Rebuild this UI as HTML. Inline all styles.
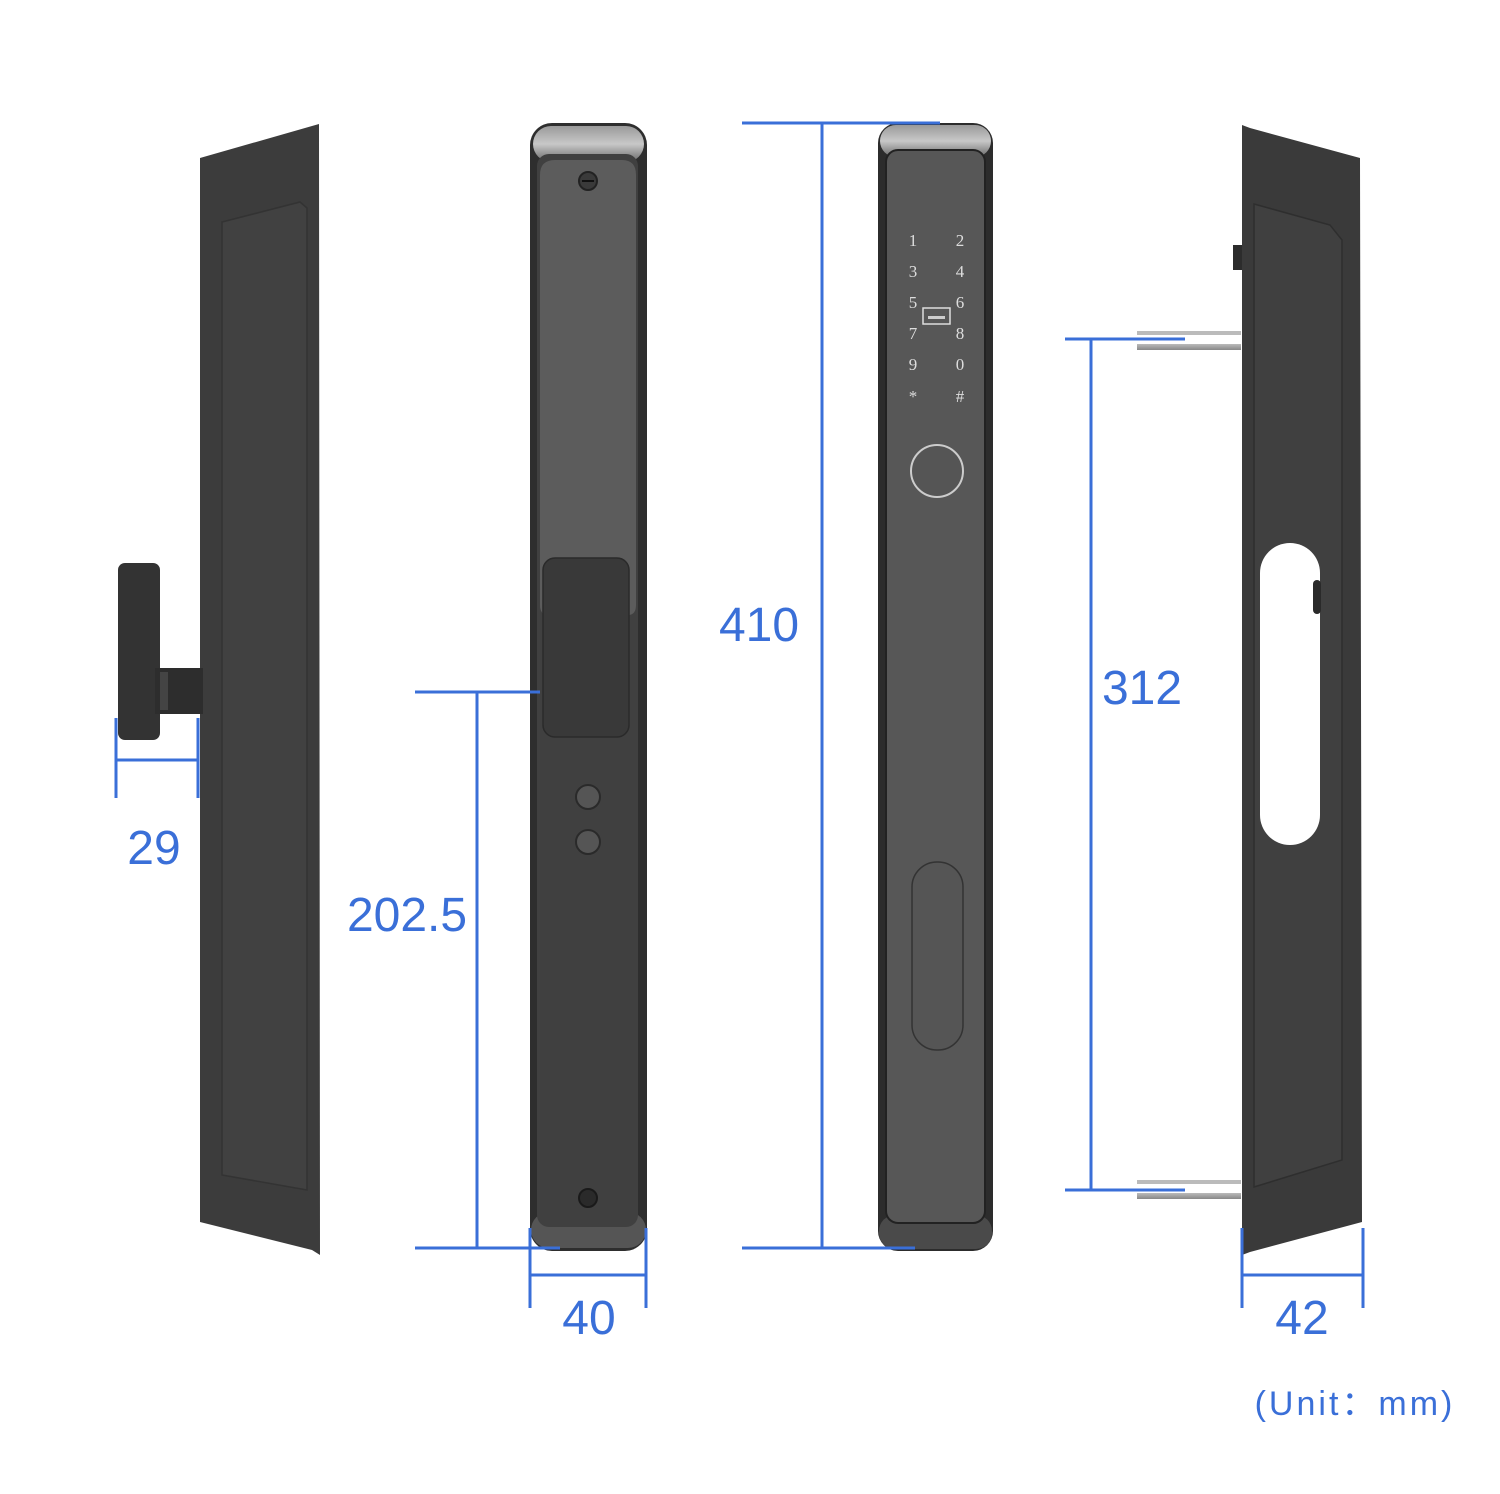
<!DOCTYPE html>
<html><head><meta charset="utf-8"><style>
html,body{margin:0;padding:0;background:#fff;}
svg{display:block}
</style></head><body>
<svg width="1500" height="1494" viewBox="0 0 1500 1494" xmlns="http://www.w3.org/2000/svg">
<defs>
<linearGradient id="cap" x1="0" y1="0" x2="0" y2="1">
<stop offset="0" stop-color="#9a9a9a"/><stop offset="0.5" stop-color="#c8c8c8"/><stop offset="1" stop-color="#6a6a6a"/>
</linearGradient>
<linearGradient id="pin" x1="0" y1="0" x2="0" y2="1">
<stop offset="0" stop-color="#bbb"/><stop offset="1" stop-color="#888"/>
</linearGradient>
</defs>
<rect width="1500" height="1494" fill="#fff"/>

<!-- LEFT side view -->
<polygon points="200,158 312,126 319,124 320,1255 312,1250 200,1222" fill="#3c3c3c"/>
<polygon points="222,222 300,202 307,208 307,1190 222,1175" fill="#414141" stroke="#333" stroke-width="1.5"/>
<rect x="118" y="563" width="42" height="177" rx="7" fill="#333"/>
<rect x="155" y="668" width="48" height="46" fill="#2d2d2d"/>
<rect x="160" y="672" width="8" height="38" fill="#444"/>

<!-- BACK view -->
<rect x="530" y="123" width="117" height="1128" rx="22" fill="#2e2e2e"/>
<rect x="533" y="126" width="111" height="36" rx="18" fill="url(#cap)"/>
<rect x="531" y="1212" width="115" height="36" rx="18" fill="#555"/>
<rect x="537" y="154" width="101" height="1073" rx="12" fill="#404040"/>
<path d="M540,175 Q540,160 555,160 L622,160 Q636,160 636,175 L636,605 Q636,615 628,615 L548,615 Q540,615 540,605 Z" fill="#5c5c5c"/>
<circle cx="588" cy="181" r="9" fill="#3a3a3a" stroke="#222" stroke-width="2"/>
<line x1="582" y1="181" x2="594" y2="181" stroke="#111" stroke-width="2"/>
<rect x="543" y="558" width="86" height="179" rx="12" fill="#393939" stroke="#2a2a2a" stroke-width="1.5"/>
<circle cx="588" cy="797" r="12" fill="#555" stroke="#2a2a2a" stroke-width="2"/>
<circle cx="588" cy="842" r="12" fill="#555" stroke="#2a2a2a" stroke-width="2"/>
<circle cx="588" cy="1198" r="9" fill="#2a2a2a" stroke="#1a1a1a" stroke-width="2"/>

<!-- FRONT view -->
<rect x="878" y="123" width="115" height="1128" rx="20" fill="#2c2c2c"/>
<rect x="880" y="125" width="111" height="32" rx="16" fill="url(#cap)"/>
<rect x="879" y="1215" width="113" height="34" rx="16" fill="#4a4a4a"/>
<rect x="886" y="150" width="99" height="1073" rx="12" fill="#575757" stroke="#222" stroke-width="2"/>
<g font-family="Liberation Serif, serif" font-size="17" fill="#ddd" text-anchor="middle">
<text x="913" y="246">1</text><text x="960" y="246">2</text>
<text x="913" y="277">3</text><text x="960" y="277">4</text>
<text x="913" y="308">5</text><text x="960" y="308">6</text>
<text x="913" y="339">7</text><text x="960" y="339">8</text>
<text x="913" y="370">9</text><text x="960" y="370">0</text>
<text x="913" y="402">*</text><text x="960" y="402">#</text>
</g>
<rect x="923" y="308" width="27" height="16" fill="none" stroke="#ddd" stroke-width="1.5"/>
<rect x="928" y="316" width="17" height="3" fill="#ccc"/>
<circle cx="937" cy="471" r="26" fill="#555" stroke="#ccc" stroke-width="2"/>
<rect x="912" y="862" width="51" height="188" rx="25" fill="#555" stroke="#333" stroke-width="1.5"/>

<!-- RIGHT side view -->
<rect x="1233" y="245" width="10" height="25" fill="#2c2c2c"/>
<rect x="1137" y="331" width="104" height="4" fill="#bbb"/>
<rect x="1137" y="344" width="104" height="6" fill="url(#pin)"/>
<rect x="1137" y="1180" width="104" height="4" fill="#bbb"/>
<rect x="1137" y="1193" width="104" height="6" fill="url(#pin)"/>
<polygon points="1242,125 1250,128 1360,158 1362,1222 1250,1252 1242,1255" fill="#3a3a3a"/>
<polygon points="1254,204 1330,225 1342,240 1342,1160 1254,1187" fill="#404040" stroke="#2e2e2e" stroke-width="1.5"/>
<rect x="1260" y="543" width="60" height="302" rx="30" fill="#fff"/>
<rect x="1313" y="580" width="8" height="34" rx="4" fill="#2a2a2a"/>

<!-- DIMENSIONS -->
<g stroke="#3a6fd8" stroke-width="3" fill="none">
<line x1="116" y1="718" x2="116" y2="798"/><line x1="198" y1="718" x2="198" y2="798"/><line x1="116" y1="760" x2="198" y2="760"/>
<line x1="415" y1="692" x2="540" y2="692"/><line x1="415" y1="1248" x2="560" y2="1248"/><line x1="477" y1="692" x2="477" y2="1248"/>
<line x1="530" y1="1228" x2="530" y2="1308"/><line x1="646" y1="1228" x2="646" y2="1308"/><line x1="530" y1="1275" x2="646" y2="1275"/>
<line x1="742" y1="123" x2="940" y2="123"/><line x1="742" y1="1248" x2="915" y2="1248"/><line x1="822" y1="123" x2="822" y2="1248"/>
<line x1="1065" y1="339" x2="1185" y2="339"/><line x1="1065" y1="1190" x2="1185" y2="1190"/><line x1="1091" y1="339" x2="1091" y2="1190"/>
<line x1="1242" y1="1228" x2="1242" y2="1308"/><line x1="1363" y1="1228" x2="1363" y2="1308"/><line x1="1242" y1="1275" x2="1363" y2="1275"/>
</g>
<g font-family="Liberation Sans, DejaVu Sans, sans-serif" font-size="48" fill="#3a6fd8" text-anchor="middle">
<text x="154" y="864">29</text>
<text x="407" y="931">202.5</text>
<text x="589" y="1334">40</text>
<text x="759" y="641">410</text>
<text x="1142" y="704">312</text>
<text x="1302" y="1334">42</text>
</g>
<text x="1355" y="1415" font-family="Liberation Sans, 'Noto Sans CJK SC', sans-serif" font-size="34" fill="#3a6fd8" text-anchor="middle" letter-spacing="3">(Unit：mm)</text>
</svg>
</body></html>
